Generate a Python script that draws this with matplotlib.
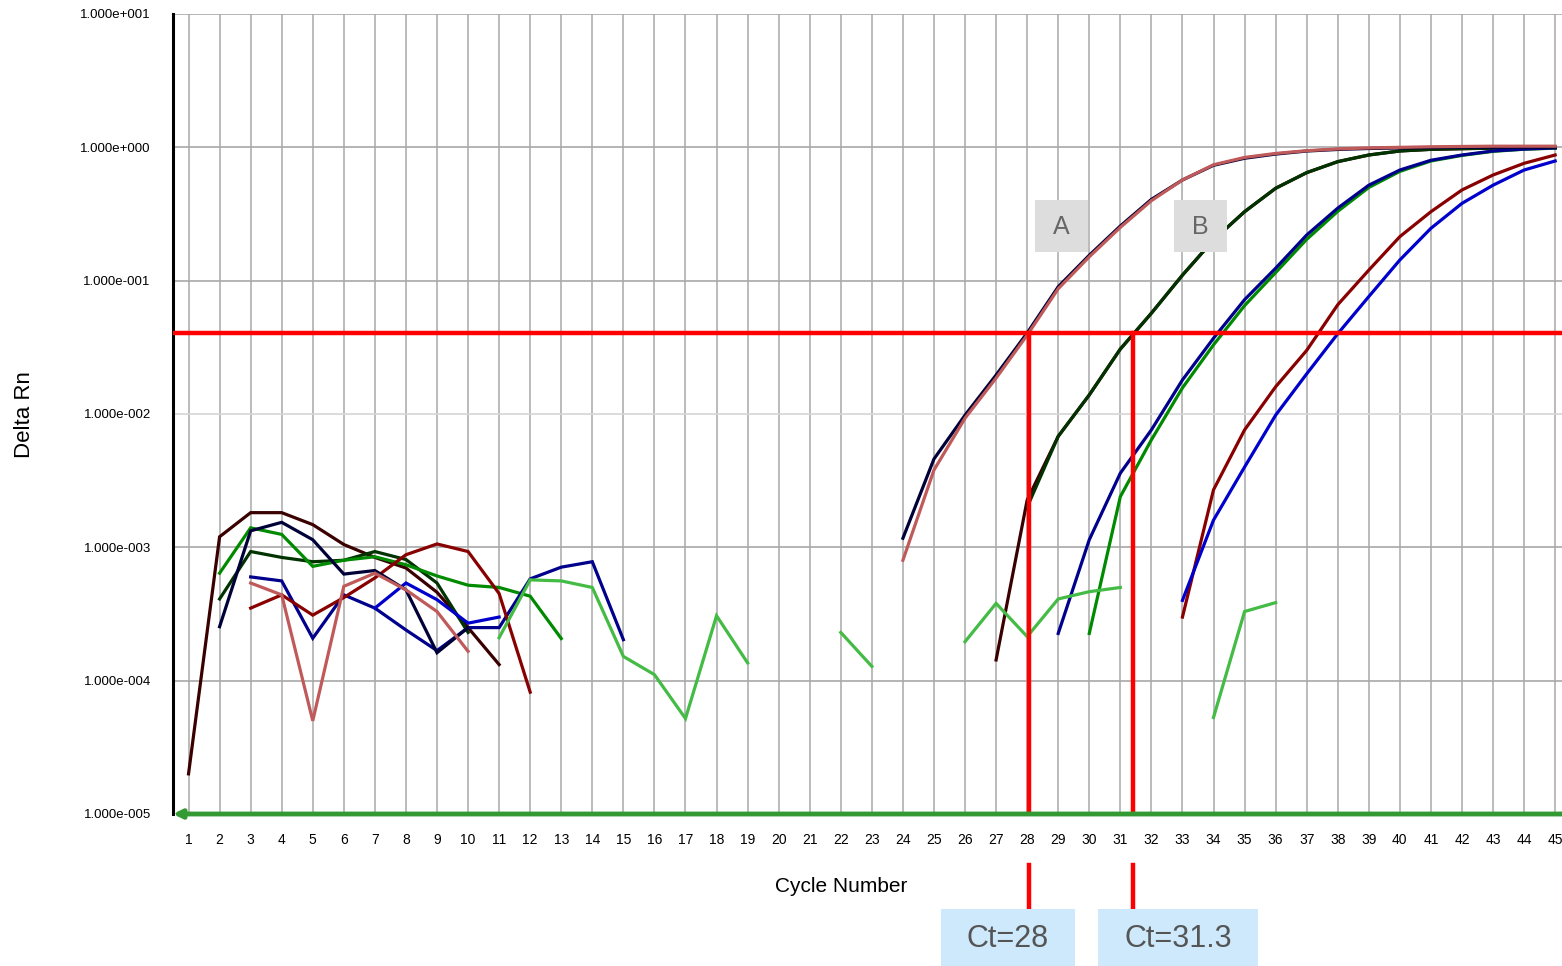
import numpy as np
import matplotlib
matplotlib.use("Agg")
import matplotlib.pyplot as plt
from matplotlib.patches import Rectangle
from matplotlib.transforms import blended_transform_factory
from matplotlib.ticker import NullLocator

plt.rcParams['font.family'] = ['Liberation Sans', 'DejaVu Sans']

nan = np.nan
cycles = np.arange(1, 46)

# ---- Delta Rn values per cycle (1..45); nan = not plotted (<= 0) ----
sample_A1 = ([nan, 2.54e-4, 1.33e-3, 1.54e-3, 1.14e-3, 6.3e-4, 6.7e-4, 4.8e-4, 1.62e-4, 2.5e-4]
             + [nan] * 13
             + [1.17e-3, 4.6e-3, 9.8e-3, 1.96e-2, 4.05e-2, 9.0e-2, 0.155, 0.257, 0.407, 0.569,
                0.733, 0.828, 0.89, 0.938, 0.964, 0.98, 0.989, 0.995, 1.0, 1.0, 1.0, 1.0])
sample_A2 = ([nan, nan, 5.4e-4, 4.4e-4, 5.0e-5, 5.1e-4, 6.4e-4, 4.8e-4, 3.3e-4, 1.66e-4]
             + [nan] * 13
             + [8.0e-4, 3.8e-3, 9.3e-3, 1.86e-2, 3.9e-2, 8.7e-2, 0.151, 0.251, 0.398, 0.569,
                0.74, 0.84, 0.90, 0.944, 0.973, 0.99, 1.0, 1.01, 1.015, 1.02, 1.02, 1.02])
sample_B1 = ([2.0e-5, 1.2e-3, 1.82e-3, 1.82e-3, 1.48e-3, 1.05e-3, 8.4e-4, 7.0e-4, 4.6e-4, 2.5e-4, 1.32e-4]
             + [nan] * 15
             + [1.43e-4, 2.26e-3, 6.8e-3, 1.39e-2, 3.07e-2, 5.7e-2, 0.110, 0.202, 0.329, 0.493,
                0.646, 0.781, 0.876, 0.939, 0.966, 0.977, 0.986, 0.991, 0.995])
sample_B2 = ([nan, 4.1e-4, 9.3e-4, 8.4e-4, 7.8e-4, 8.0e-4, 9.3e-4, 8.1e-4, 5.4e-4, 2.3e-4]
             + [nan] * 17
             + [2.0e-3, 6.8e-3, 1.39e-2, 3.07e-2, 5.7e-2, 0.110, 0.202, 0.329, 0.493,
                0.646, 0.781, 0.876, 0.939, 0.966, 0.977, 0.986, 0.991, 0.995])
sample_C1 = ([nan, nan, 6.0e-4, 5.6e-4, 2.08e-4, 4.4e-4, 3.5e-4, 2.4e-4, 1.68e-4, 2.5e-4,
              2.5e-4, 5.8e-4, 7.1e-4, 7.8e-4, 2.03e-4]
             + [nan] * 13
             + [2.26e-4, 1.14e-3, 3.6e-3, 7.6e-3, 1.8e-2, 3.7e-2, 7.2e-2, 0.124, 0.22, 0.35,
                0.52, 0.676, 0.80, 0.876, 0.939, 0.97, 0.99])
sample_C2 = ([nan, 6.4e-4, 1.40e-3, 1.25e-3, 7.2e-4, 8.0e-4, 8.5e-4, 7.4e-4, 6.1e-4, 5.2e-4,
              5.0e-4, 4.3e-4, 2.07e-4]
             + [nan] * 16
             + [2.26e-4, 2.4e-3, 6.4e-3, 1.57e-2, 3.3e-2, 6.5e-2, 0.115, 0.204, 0.331,
                0.50, 0.66, 0.79, 0.87, 0.933, 0.968, 0.986])
sample_D1 = ([nan, nan, 3.5e-4, 4.4e-4, 3.1e-4, 4.2e-4, 5.9e-4, 8.8e-4, 1.06e-3, 9.3e-4,
              4.5e-4, 8.2e-5]
             + [nan] * 20
             + [3.0e-4, 2.7e-3, 7.6e-3, 1.6e-2, 3.0e-2, 6.6e-2, 0.12, 0.214, 0.329, 0.479,
                0.62, 0.759, 0.876])
sample_D2 = ([nan] * 6
             + [3.5e-4, 5.4e-4, 4.05e-4, 2.7e-4, 3.0e-4]
             + [nan] * 21
             + [4.0e-4, 1.6e-3, 4.0e-3, 9.8e-3, 2.0e-2, 4.0e-2, 7.6e-2, 0.143, 0.247, 0.38,
                0.52, 0.676, 0.79])
ntc = ([nan] * 10
       + [2.1e-4, 5.7e-4, 5.6e-4, 5.0e-4, 1.52e-4, 1.11e-4, 5.2e-5, 3.07e-4, 1.36e-4,
          nan, nan, 2.3e-4, 1.28e-4, nan, nan,
          1.96e-4, 3.8e-4, 2.14e-4, 4.1e-4, 4.65e-4, 5.0e-4, nan, nan,
          5.3e-5, 3.3e-4, 3.85e-4]
       + [nan] * 9)

series = [
    (sample_B1, '#3a0000'),
    (sample_B2, '#003300'),
    (sample_C2, '#008a00'),
    (sample_C1, '#00008c'),
    (sample_D1, '#880000'),
    (sample_D2, '#0000cc'),
    (ntc, '#44bb44'),
    (sample_A1, '#000038'),
    (sample_A2, '#c05a5a'),
]

threshold = 0.0405
ct_values = ["28", "31.3"]
ct_line_x = [28.05, 31.42]
decades = [1e-5, 1e-4, 1e-3, 1e-2, 1e-1, 1e0, 1e1]

W, H = 1562, 966
fig = plt.figure(figsize=(W / 100, H / 100), dpi=100)
ax = fig.add_axes([173 / W, 1 - 814 / H, (W - 173) / W, 800 / H])
ax.set_yscale('log')
ax.set_ylim(1e-5, 1e1)
ax.set_xlim(0.5, 45.22)

# grid
for c in cycles:
    ax.axvline(c, color='#a8a8a8', lw=1.1, zorder=0)
for d in decades:
    col = '#d6d6d6' if d == 1e-2 else '#a8a8a8'
    ax.axhline(d, color=col, lw=1.2, zorder=0)

ax.set_xticks(cycles)
ax.set_xticklabels([str(c) for c in cycles], fontsize=10)
ax.set_yticks(decades)
ax.set_yticklabels(["%.3fe%s%03d" % (1.0, '+' if np.log10(d) >= 0 else '-', abs(int(round(np.log10(d)))))
                    for d in decades], fontsize=9.5)
ax.yaxis.set_minor_locator(NullLocator())
ax.tick_params(axis='both', length=0)
ax.tick_params(axis='x', pad=14)
ax.tick_params(axis='y', pad=16)
for s in ['top', 'right', 'bottom']:
    ax.spines[s].set_visible(False)
ax.spines['left'].set_linewidth(2.2)
ax.spines['left'].set_color('black')

for vals, col in series:
    ax.plot(cycles, vals, color=col, lw=2.3, zorder=3, solid_joinstyle='miter')

# threshold and Ct lines
ax.axhline(threshold, color='#ff0000', lw=3.2, zorder=6)
for x in ct_line_x:
    ax.plot([x, x], [1e-5, threshold], color='#ff0000', lw=3.2, zorder=6)
trans = blended_transform_factory(ax.transData, ax.transAxes)
for x in ct_line_x:
    ax.plot([x, x], [-0.064, -0.12], color='#ff0000', lw=3.2, transform=trans, clip_on=False)

# baseline axis arrow
ax.annotate('', xy=(0.5, 1e-5), xytext=(45.22, 1e-5),
            arrowprops=dict(arrowstyle='-|>', color='#339933', lw=3.5, mutation_scale=12,
                            shrinkA=0, shrinkB=0), annotation_clip=False, zorder=7)

# labels
fig.text(25 / W, 1 - 415 / H, 'Delta Rn', rotation=90, ha='center', va='center', fontsize=16)
fig.text(841 / W, 1 - 887 / H, 'Cycle Number', ha='center', va='center', fontsize=15)

# curve labels A / B
for lab, x0 in [('A', 1035), ('B', 1174)]:
    fig.patches.append(Rectangle((x0 / W, 1 - 252 / H), 53 / W, 52 / H, transform=fig.transFigure,
                                 facecolor='#dddddd', edgecolor='none', zorder=8))
    fig.text((x0 + 26.5) / W, 1 - 227 / H, lab, ha='center', va='center', fontsize=18,
             color='#666666', zorder=9)

# Ct boxes
for lab, x0, w in [(ct_values[0], 941, 134), (ct_values[1], 1098, 160)]:
    fig.patches.append(Rectangle((x0 / W, 0), w / W, 57 / H, transform=fig.transFigure,
                                 facecolor='#cde9fb', edgecolor='none', zorder=8))
    fig.text((x0 + w / 2) / W, 1 - 939 / H, 'Ct=' + lab, ha='center', va='center', fontsize=22,
             color='#555555', zorder=9)

fig.savefig('out.png', dpi=100)
